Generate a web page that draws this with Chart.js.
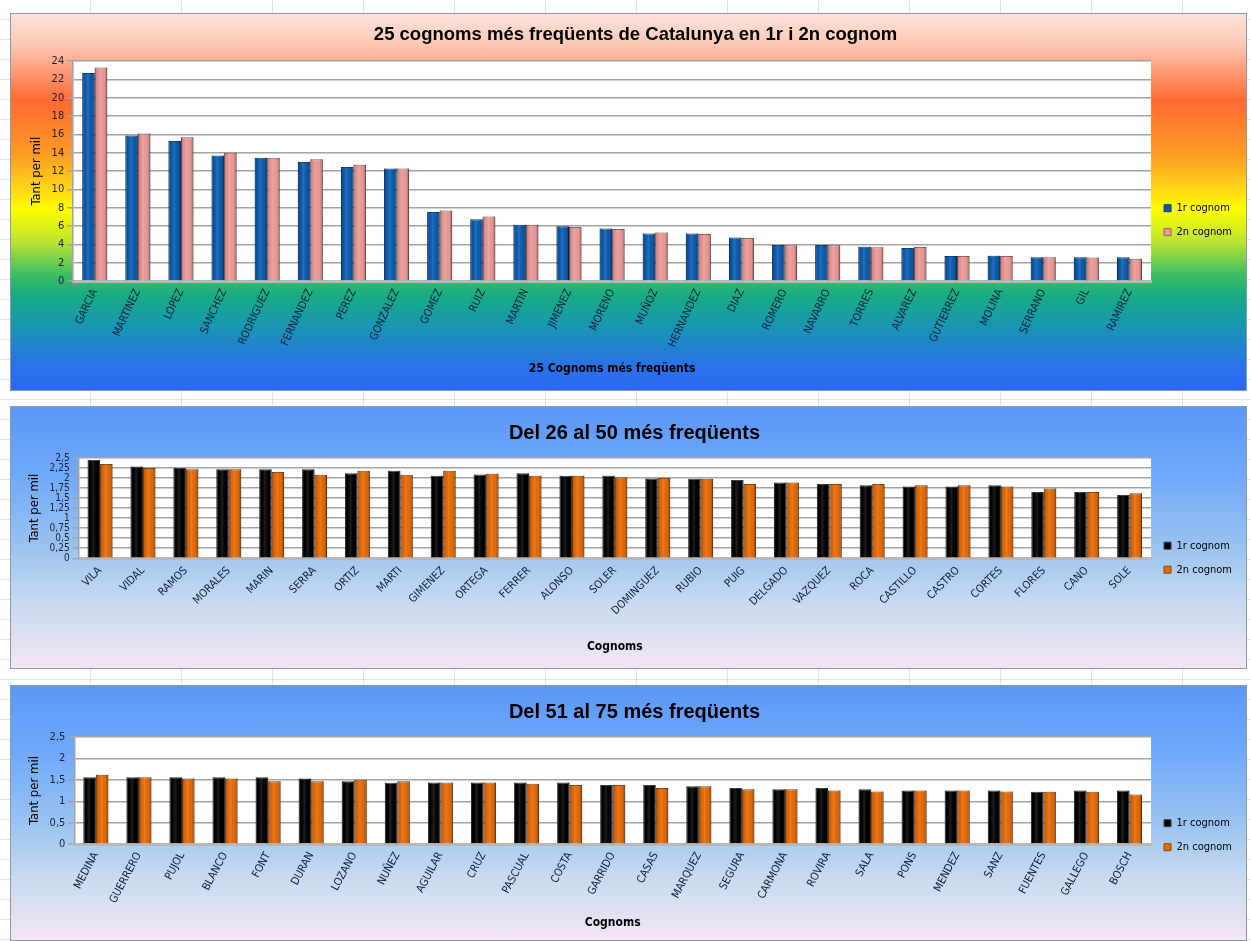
<!DOCTYPE html>
<html>
<head>
<meta charset="utf-8">
<script src="https://cdn.jsdelivr.net/npm/chart.js@4.4.1/dist/chart.umd.min.js"></script>
<style>
  html, body { margin: 0; padding: 0; }
  body {
    width: 1251px; height: 941px; position: relative; overflow: hidden;
    background-color: #ffffff;
    background-image:
      repeating-linear-gradient(to bottom, transparent 0px, transparent 19px, #dde3ec 19px, #dde3ec 20px),
      repeating-linear-gradient(to right, transparent 0px, transparent 90px, #dde3ec 90px, #dde3ec 91px);
  }
  .box { position: absolute; left: 10px; width: 1237px; border: 1px solid #8c98ab; box-sizing: border-box; }
  #b1 { top: 13px; height: 378px;
    background: linear-gradient(to bottom, #fde3da 0%, #fcc9b6 8%, #ff6a33 23%, #fd9a24 37%, #ffd21a 46%, #ffff00 52%, #b8e234 61%, #3fc060 69%, #17aa84 75%, #1896b2 83%, #2a74e6 93%, #2e66f4 100%); }
  #b2 { top: 406px; height: 263px;
    background: linear-gradient(to bottom, #5b98f6 0%, #6ea8fb 25%, #9cc4f0 55%, #c8daf0 75%, #f3e6f4 100%); }
  #b3 { top: 685px; height: 256px;
    background: linear-gradient(to bottom, #5b98f6 0%, #6ea8fb 25%, #9cc4f0 55%, #c8daf0 75%, #f3e6f4 100%); }
  canvas { display: block; }
</style>
</head>
<body>
<div class="box" id="b1"><canvas id="c1"></canvas></div>
<div class="box" id="b2"><canvas id="c2"></canvas></div>
<div class="box" id="b3"><canvas id="c3"></canvas></div>
<script>
// ---------- DATA ----------
const seriesNames = ['1r cognom', '2n cognom'];

const titles = [
  '25 cognoms més freqüents de Catalunya en 1r i 2n cognom',
  'Del 26 al 50 més freqüents',
  'Del 51 al 75 més freqüents'
];
const xTitles = ['25 Cognoms més freqüents', 'Cognoms', 'Cognoms'];
const yTitles = ['Tant per mil', 'Tant per mil', 'Tant per mil'];

const cat1 = ['GARCIA','MARTINEZ','LOPEZ','SANCHEZ','RODRIGUEZ','FERNANDEZ','PEREZ','GONZALEZ','GOMEZ','RUIZ','MARTIN','JIMENEZ','MORENO','MUÑOZ','HERNANDEZ','DIAZ','ROMERO','NAVARRO','TORRES','ALVAREZ','GUTIERREZ','MOLINA','SERRANO','GIL','RAMIREZ'];
const first1 = [22.7,15.9,15.3,13.7,13.45,13.0,12.45,12.3,7.55,6.75,6.15,6.0,5.75,5.2,5.2,4.75,3.95,3.95,3.75,3.6,2.75,2.78,2.6,2.6,2.6];
const second1 = [23.3,16.1,15.7,14.0,13.45,13.3,12.7,12.3,7.7,7.05,6.15,5.9,5.7,5.3,5.15,4.7,3.92,3.92,3.7,3.72,2.75,2.75,2.6,2.58,2.45];
const yTicks1 = [0,2,4,6,8,10,12,14,16,18,20,22,24];

const cat2 = ['VILA','VIDAL','RAMOS','MORALES','MARIN','SERRA','ORTIZ','MARTI','GIMENEZ','ORTEGA','FERRER','ALONSO','SOLER','DOMINGUEZ','RUBIO','PUIG','DELGADO','VAZQUEZ','ROCA','CASTILLO','CASTRO','CORTES','FLORES','CANO','SOLE'];
const first2 = [2.45,2.29,2.25,2.22,2.22,2.22,2.12,2.18,2.06,2.09,2.12,2.06,2.06,1.99,1.98,1.95,1.89,1.85,1.82,1.79,1.79,1.82,1.65,1.65,1.58];
const second2 = [2.35,2.25,2.22,2.22,2.15,2.08,2.18,2.08,2.18,2.11,2.06,2.06,2.02,2.0,1.98,1.85,1.89,1.85,1.85,1.82,1.82,1.79,1.74,1.65,1.62];
const yTicks2 = ['0','0,25','0,5','0,75','1','1,25','1,5','1,75','2','2,25','2,5'];

const cat3 = ['MEDINA','GUERRERO','PUJOL','BLANCO','FONT','DURAN','LOZANO','NUÑEZ','AGUILAR','CRUZ','PASCUAL','COSTA','GARRIDO','CASAS','MARQUEZ','SEGURA','CARMONA','ROVIRA','SALA','PONS','MENDEZ','SANZ','FUENTES','GALLEGO','BOSCH'];
const first3 = [1.56,1.56,1.56,1.56,1.56,1.53,1.47,1.43,1.44,1.44,1.44,1.44,1.38,1.38,1.35,1.31,1.28,1.31,1.28,1.25,1.25,1.25,1.22,1.25,1.25];
const second3 = [1.62,1.56,1.53,1.53,1.47,1.47,1.5,1.47,1.44,1.44,1.41,1.38,1.38,1.31,1.35,1.28,1.28,1.25,1.23,1.25,1.25,1.23,1.22,1.22,1.16];
const yTicks3 = ['0','0,5','1','1,5','2','2,5'];

// ---------- RENDERING ----------
const FONT = "'Liberation Sans Narrow', 'DejaVu Sans Condensed', 'Liberation Sans', sans-serif";
const TFONT = "'Liberation Sans', 'Noto Sans', sans-serif";

function parseTick(s) { return parseFloat(String(s).replace(',', '.')); }

const plotBg = {
  id: 'plotBg',
  beforeDraw(chart) {
    const a = chart.chartArea, ctx = chart.ctx;
    ctx.save();
    ctx.fillStyle = '#ffffff';
    ctx.fillRect(a.left, a.top, a.right - a.left, a.bottom - a.top);
    ctx.restore();
  },
  afterDatasetsDraw(chart) {
    const ctx = chart.ctx;
    ctx.save();
    chart.data.datasets.forEach((ds, di) => {
      const meta = chart.getDatasetMeta(di);
      meta.data.forEach(bar => {
        const l = bar.x - bar.width / 2, w = bar.width, t = Math.min(bar.y, bar.base), h = Math.abs(bar.base - bar.y);
        const g = ctx.createLinearGradient(l, 0, l + w, 0);
        g.addColorStop(0, 'rgba(0,0,0,0.30)');
        g.addColorStop(0.2, 'rgba(0,0,0,0.05)');
        g.addColorStop(0.45, 'rgba(255,255,255,0.12)');
        g.addColorStop(0.75, 'rgba(0,0,0,0.0)');
        g.addColorStop(1, 'rgba(0,0,0,0.35)');
        ctx.fillStyle = g;
        ctx.fillRect(l, t, w, h);
      });
    });
    ctx.restore();
  }
};

function makeChart(id, box, opts) {
  const el = document.getElementById(box);
  const cv = document.getElementById(id);
  cv.width = el.clientWidth; cv.height = el.clientHeight;
  cv.style.width = el.clientWidth + 'px'; cv.style.height = el.clientHeight + 'px';
  const tickVals = opts.yTicks.map(parseTick);
  return new Chart(cv, {
    type: 'bar',
    data: {
      labels: opts.labels,
      datasets: [
        { label: seriesNames[0], data: opts.s1, backgroundColor: opts.c1, borderColor: opts.b1, borderWidth: 1,
          categoryPercentage: 0.58, barPercentage: 1.0 },
        { label: seriesNames[1], data: opts.s2, backgroundColor: opts.c2, borderColor: opts.b2, borderWidth: 1,
          categoryPercentage: 0.58, barPercentage: 1.0 }
      ]
    },
    options: {
      responsive: false, animation: false, devicePixelRatio: 1,
      layout: { padding: opts.padding },
      plugins: {
        title: { display: true, text: opts.title, color: '#000',
          font: { family: TFONT, size: opts.titleSize, weight: 'bold' }, padding: opts.titlePad },
        legend: {
          position: 'right', align: 'center',
          title: { display: true, text: '', padding: { top: opts.legendShift, bottom: 0 } },
          labels: { boxWidth: 7, boxHeight: 7, padding: 13, color: '#000', font: { family: FONT, size: 11 } }
        },
        tooltip: { enabled: false }
      },
      scales: {
        x: {
          grid: { display: false, drawTicks: false },
          border: { display: true, color: '#b8b8b8', width: 3 },
          ticks: { color: '#10203a', autoSkip: false, maxRotation: opts.rot, minRotation: opts.rot,
            font: { family: FONT, size: 11 }, padding: 6 },
          title: { display: true, text: opts.xTitle, color: '#000',
            font: { family: FONT, size: 12, weight: 'bold' }, padding: opts.xTitlePad }
        },
        y: {
          min: 0, max: tickVals[tickVals.length - 1],
          afterBuildTicks(axis) { axis.ticks = tickVals.map(v => ({ value: v })); },
          grid: { color: '#a3a3a3', lineWidth: 1.5, tickLength: 6 },
          border: { display: true, color: '#a3a3a3', width: 1.5 },
          ticks: { color: '#1a2030', autoSkip: false, padding: 3,
            font: { family: FONT, size: opts.yFont },
            callback(v) { const i = tickVals.indexOf(v); return i >= 0 ? opts.yTicks[i] : ''; } },
          title: { display: true, text: opts.yTitle, color: '#000',
            font: { family: FONT, size: 13 }, padding: { top: 0, bottom: 4 } }
        }
      }
    },
    plugins: [plotBg]
  });
}

makeChart('c1', 'b1', {
  labels: cat1, s1: first1, s2: second1, yTicks: yTicks1.map(String),
  c1: '#0a5cb0', b1: '#083a70', c2: '#ec9a98', b2: '#9a5a5a',
  title: titles[0], xTitle: xTitles[0], yTitle: yTitles[0], titleSize: 18.5,
  padding: { left: 18, right: 4, top: 2, bottom: 14 },
  titlePad: { top: 8, bottom: 15 }, legendShift: 34, rot: 65, yFont: 11, xTitlePad: { top: 6, bottom: 0 }
});
makeChart('c2', 'b2', {
  labels: cat2, s1: first2, s2: second2, yTicks: yTicks2,
  c1: '#000000', b1: '#3a3a3a', c2: '#e76a05', b2: '#8a4410',
  title: titles[1], xTitle: xTitles[1], yTitle: yTitles[1], titleSize: 20,
  padding: { left: 16, right: 4, top: 2, bottom: 14 },
  titlePad: { top: 12, bottom: 13 }, legendShift: 38, rot: 45, yFont: 10, xTitlePad: { top: 16, bottom: 0 }
});
makeChart('c3', 'b3', {
  labels: cat3, s1: first3, s2: second3, yTicks: yTicks3,
  c1: '#000000', b1: '#3a3a3a', c2: '#e76a05', b2: '#8a4410',
  title: titles[2], xTitle: xTitles[2], yTitle: yTitles[2], titleSize: 20,
  padding: { left: 16, right: 4, top: 2, bottom: 10 },
  titlePad: { top: 12, bottom: 13 }, legendShift: 38, rot: 62, yFont: 11, xTitlePad: { top: 4, bottom: 0 }
});
</script>
</body>
</html>
